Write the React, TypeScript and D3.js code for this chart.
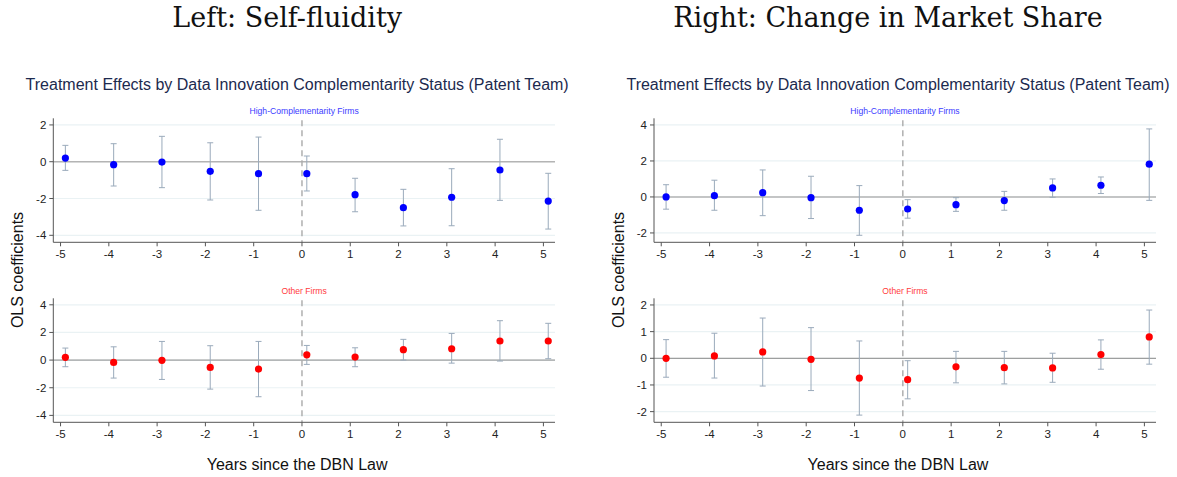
import * as d3 from "d3";

const years = [-5, -4, -3, -2, -1, 0, 1, 2, 3, 4, 5];

// Left: Self-fluidity
const leftHighCoef = [0.2, -0.16, -0.02, -0.52, -0.65, -0.65, -1.79, -2.5, -1.93, -0.45, -2.14];
const leftHighLo = [-0.47, -1.32, -1.41, -2.08, -2.64, -1.59, -2.72, -3.49, -3.48, -2.1, -3.66];
const leftHighHi = [0.89, 0.98, 1.38, 1.03, 1.34, 0.31, -0.9, -1.5, -0.38, 1.22, -0.63];
const leftOtherCoef = [0.2, -0.17, -0.02, -0.53, -0.65, 0.38, 0.22, 0.75, 0.82, 1.38, 1.38];
const leftOtherLo = [-0.48, -1.3, -1.4, -2.1, -2.65, -0.31, -0.48, 0.0, -0.22, -0.07, 0.1];
const leftOtherHi = [0.87, 0.96, 1.35, 1.04, 1.35, 1.06, 0.89, 1.5, 1.93, 2.85, 2.66];

// Right: Change in Market Share
const rightHighCoef = [0.0, 0.07, 0.24, -0.04, -0.74, -0.67, -0.43, -0.2, 0.5, 0.65, 1.82];
const rightHighLo = [-0.68, -0.74, -1.04, -1.2, -2.13, -1.18, -0.8, -0.74, -0.02, 0.19, -0.19];
const rightHighHi = [0.68, 0.93, 1.5, 1.15, 0.63, -0.15, -0.04, 0.31, 1.0, 1.11, 3.78];
const rightOtherCoef = [0.0, 0.09, 0.24, -0.04, -0.74, -0.8, -0.32, -0.35, -0.36, 0.14, 0.8];
const rightOtherLo = [-0.71, -0.74, -1.04, -1.21, -2.13, -1.52, -0.92, -0.96, -0.9, -0.41, -0.22];
const rightOtherHi = [0.7, 0.94, 1.51, 1.15, 0.65, -0.09, 0.26, 0.26, 0.19, 0.69, 1.81];

const leftTopTicks = [-4, -2, 0, 2];
const leftBottomTicks = [-4, -2, 0, 2, 4];
const rightTopTicks = [-2, 0, 2, 4];
const rightBottomTicks = [-2, -1, 0, 1, 2];

const SANS = "'Liberation Sans', Arial, sans-serif";

interface PanelProps {
  x0: number;
  x1: number;
  top: number;
  bottom: number;
  yDomain: [number, number];
  ticks: number[];
  coef: number[];
  lo: number[];
  hi: number[];
  color: string;
  label: string;
  labelColor: string;
  heavyZero: boolean;
}

const Panel = ({ x0, x1, top, bottom, yDomain, ticks, coef, lo, hi, color, label, labelColor, heavyZero }: PanelProps) => {
  const x = d3.scaleLinear().domain([-5.15, 5.24]).range([x0, x1]);
  const y = d3.scaleLinear().domain(yDomain).range([bottom, top]);
  const off = 0.1;
  return (
    <g>
      {ticks.map((t) => (
        <line key={"g" + t} x1={x0} x2={x1} y1={y(t)} y2={y(t)} stroke="#eaf2f4" strokeWidth={1.2} />
      ))}
      <line x1={x0} x2={x1} y1={y(0)} y2={y(0)} stroke={heavyZero ? "#b4b4b4" : "#8a8a8a"} strokeWidth={heavyZero ? 1.4 : 1} />
      <line x1={x(0)} x2={x(0)} y1={top + 2} y2={bottom} stroke="#aaaaaa" strokeWidth={1.4} strokeDasharray="6,4" />
      <text x={(x0 + x1) / 2} y={top - 4} fontSize={8.6} fill={labelColor} textAnchor="middle" fontFamily={SANS}>
        {label}
      </text>
      {years.map((yr, i) => {
        const cx = x(yr + off);
        return (
          <g key={"e" + yr}>
            <line x1={cx} x2={cx} y1={y(lo[i])} y2={y(hi[i])} stroke="#9aaabb" strokeWidth={1} />
            <line x1={cx - 3} x2={cx + 3} y1={y(lo[i])} y2={y(lo[i])} stroke="#9aaabb" strokeWidth={1} />
            <line x1={cx - 3} x2={cx + 3} y1={y(hi[i])} y2={y(hi[i])} stroke="#9aaabb" strokeWidth={1} />
          </g>
        );
      })}
      {years.map((yr, i) => (
        <circle key={"p" + yr} cx={x(yr + off)} cy={y(coef[i])} r={3.6} fill={color} />
      ))}
      <line x1={x0} x2={x0} y1={top} y2={bottom} stroke="#555" strokeWidth={1} />
      <line x1={x0} x2={x1} y1={bottom} y2={bottom} stroke="#555" strokeWidth={1} />
      {ticks.map((t) => (
        <g key={"t" + t}>
          <line x1={x0 - 4} x2={x0} y1={y(t)} y2={y(t)} stroke="#555" />
          <text x={x0 - 7} y={y(t)} dy="0.35em" fontSize={11.5} textAnchor="end" fill="#222" fontFamily={SANS}>
            {t}
          </text>
        </g>
      ))}
      {years.map((yr) => (
        <g key={"xt" + yr}>
          <line x1={x(yr)} x2={x(yr)} y1={bottom} y2={bottom + 4} stroke="#555" />
        </g>
      ))}
    </g>
  );
};

interface SideProps {
  left: number;
  right: number;
  title: string;
  topCfg: { yDomain: [number, number]; ticks: number[]; coef: number[]; lo: number[]; hi: number[] };
  botCfg: { yDomain: [number, number]; ticks: number[]; coef: number[]; lo: number[]; hi: number[] };
}

const Side = ({ left, right, title, topCfg, botCfg }: SideProps) => {
  const x = d3.scaleLinear().domain([-5.15, 5.24]).range([left, right]);
  const mid = (left + right) / 2;
  return (
    <g>
      <text x={mid - 17} y={27} fontSize={27} textAnchor="middle" fontFamily="'DejaVu Serif', 'Liberation Serif', serif" fill="#111">
        {title}
      </text>
      <text x={mid - 7} y={90} fontSize={16} textAnchor="middle" fontFamily={SANS} fill="#1c2a4e">
        Treatment Effects by Data Innovation Complementarity Status (Patent Team)
      </text>
      <Panel x0={left} x1={right} top={118.3} bottom={242.3} {...topCfg} color="#0000ff" label="High-Complementarity Firms" labelColor="#3b3bff" heavyZero={true} />
      {years.map((yr) => (
        <text key={"xl" + yr} x={x(yr)} y={258} fontSize={11.5} textAnchor="middle" fill="#222" fontFamily={SANS}>
          {yr}
        </text>
      ))}
      <Panel x0={left} x1={right} top={298.3} bottom={422.3} {...botCfg} color="#ff0000" label="Other Firms" labelColor="#ff3b3b" heavyZero={false} />
      {years.map((yr) => (
        <text key={"xb" + yr} x={x(yr)} y={438} fontSize={11.5} textAnchor="middle" fill="#222" fontFamily={SANS}>
          {yr}
        </text>
      ))}
      <text x={mid - 7} y={470} fontSize={16} textAnchor="middle" fontFamily={SANS} fill="#111">
        Years since the DBN Law
      </text>
      <text transform={`translate(${left - 30},270) rotate(-90)`} fontSize={16} textAnchor="middle" fontFamily={SANS} fill="#111">
        OLS coefficients
      </text>
    </g>
  );
};

const App = () => {
  return (
    <svg width={1177} height={477} style={{ position: "absolute", left: 0, top: 0, background: "#fff" }}>
      <Side
        left={53.3}
        right={555}
        title="Left: Self-fluidity"
        topCfg={{ yDomain: [-4.38, 2.36], ticks: leftTopTicks, coef: leftHighCoef, lo: leftHighLo, hi: leftHighHi }}
        botCfg={{ yDomain: [-4.5, 4.47], ticks: leftBottomTicks, coef: leftOtherCoef, lo: leftOtherLo, hi: leftOtherHi }}
      />
      <Side
        left={654}
        right={1156}
        title="Right: Change in Market Share"
        topCfg={{ yDomain: [-2.52, 4.37], ticks: rightTopTicks, coef: rightHighCoef, lo: rightHighLo, hi: rightHighHi }}
        botCfg={{ yDomain: [-2.4, 2.25], ticks: rightBottomTicks, coef: rightOtherCoef, lo: rightOtherLo, hi: rightOtherHi }}
      />
    </svg>
  );
};

export default App;
